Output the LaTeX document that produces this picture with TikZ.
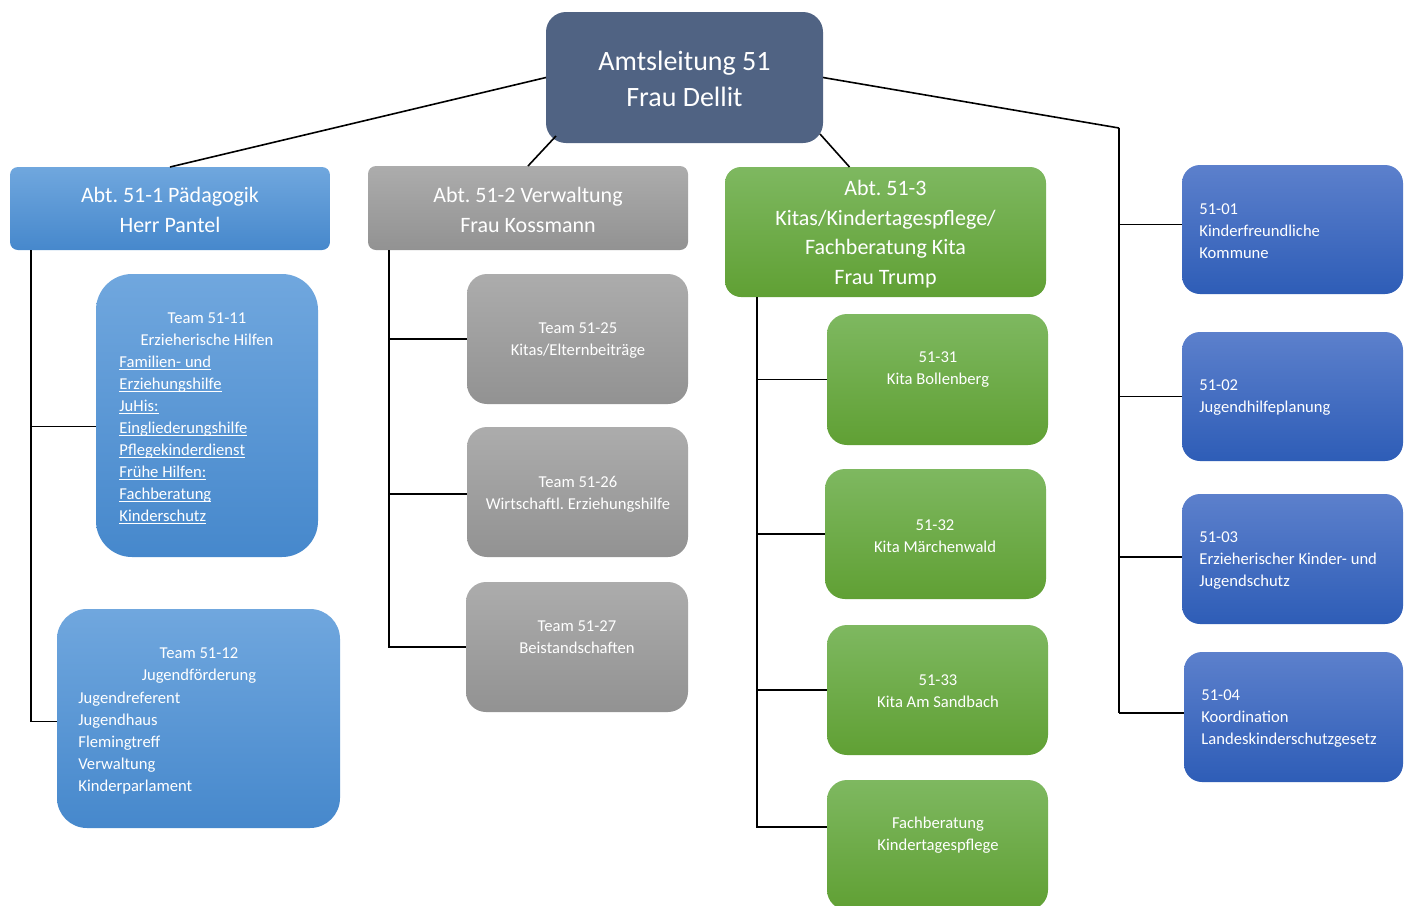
\documentclass[tikz,border=0pt]{standalone}
\usepackage{fontspec}
\setmainfont{Carlito}
\usetikzlibrary{calc}
\frenchspacing

\definecolor{amtfill}{RGB}{80,99,131}
\definecolor{paedtop}{RGB}{112,167,222}
\definecolor{paedbot}{RGB}{70,136,204}
\definecolor{verwtop}{RGB}{172,172,172}
\definecolor{verwbot}{RGB}{146,146,146}
\definecolor{kitatop}{RGB}{126,184,96}
\definecolor{kitabot}{RGB}{96,160,52}
\definecolor{stabtop}{RGB}{92,128,204}
\definecolor{stabbot}{RGB}{46,93,183}

% underline at a fixed depth, crossing the descenders
\newcommand\undl[1]{\setbox0=\hbox{#1}\rlap{\rule[-1.6pt]{\wd0}{0.65pt}}\box0}

\tikzset{
  orgbox/.style={draw=none, inner sep=0pt, outer sep=0pt},
  amtbox/.style={orgbox, fill=amtfill, rounded corners=10pt},
  paedbox/.style={orgbox, top color=paedtop, bottom color=paedbot},
  verwbox/.style={orgbox, top color=verwtop, bottom color=verwbot},
  kitabox/.style={orgbox, top color=kitatop, bottom color=kitabot},
  stabbox/.style={orgbox, top color=stabtop, bottom color=stabbot, rounded corners=9pt},
  txt/.style={text=white, inner sep=0pt, align=center, font=\fontsize{8.3}{11}\selectfont},
  lefttxt/.style={txt, align=left, anchor=west},
  abttxt/.style={txt, font=\fontsize{11}{15}\selectfont},
  conn/.style={draw=black, line width=0.8pt},
}

\begin{document}
\begin{tikzpicture}[x=0.5pt, y=-0.5pt]
\clip (0,0) rectangle (1410,906);
\fill[white] (0,0) rectangle (1410,906);

% ---- head of office
\node[amtbox, minimum width=138.5pt, minimum height=65.5pt] (amt) at (684.5,77.5) {};
\node[txt, font=\fontsize{14}{18}\selectfont] (amt-t) at (684.5,79) {Amtsleitung 51\\Frau Dellit};

% ---- departments
\node[paedbox, rounded corners=4pt, minimum width=160pt, minimum height=41.5pt] (abt1) at (170,208.5) {};
\node[abttxt] (abt1-t) at (170,210) {Abt. 51-1 Pädagogik\\Herr Pantel};

\node[verwbox, rounded corners=4pt, minimum width=160pt, minimum height=42pt] (abt2) at (528,208) {};
\node[abttxt] (abt2-t) at (528,210) {Abt. 51-2 Verwaltung\\Frau Kossmann};

\node[kitabox, rounded corners=8pt, minimum width=160.5pt, minimum height=65pt] (abt3) at (885.5,232) {};
\node[abttxt, font=\fontsize{11}{14.75}\selectfont] (abt3-t) at (885.5,234) {Abt. 51-3\\Kitas/Kindertagespflege/\\Fachberatung Kita\\Frau Trump};

% ---- teams of 51-1
\node[paedbox, rounded corners=18pt, minimum width=111pt, minimum height=141.5pt] (t11) at (207,415.5) {};
\node[txt] (t11-h) at (207,329.5) {Team 51-11\\Erzieherische Hilfen};
\node[lefttxt] (t11-l) at (119,440) {\undl{Familien- und}\\\undl{Erziehungshilfe}\\\undl{JuHis:}\\\undl{Eingliederungshilfe}\\\undl{Pflegekinderdienst}\\\undl{Frühe Hilfen:}\\\undl{Fachberatung}\\\undl{Kinderschutz}};

\node[paedbox, rounded corners=15pt, minimum width=141.5pt, minimum height=109.5pt] (t12) at (198.5,718.5) {};
\node[txt] (t12-h) at (199,666) {Team 51-12\\Jugendförderung};
\node[lefttxt] (t12-l) at (78,743) {Jugendreferent\\Jugendhaus\\Flemingtreff\\Verwaltung\\Kinderparlament};

% ---- teams of 51-2
\node[verwbox, rounded corners=10pt, minimum width=110.5pt, minimum height=65pt] (g25) at (577.5,339) {};
\node[txt] (g25-t) at (578,341) {Team 51-25\\Kitas/Elternbeiträge};
\node[verwbox, rounded corners=10pt, minimum width=110.5pt, minimum height=65pt] (g26) at (577.5,492) {};
\node[txt] (g26-t) at (578,494.5) {Team 51-26\\Wirtschaftl. Erziehungshilfe};
\node[verwbox, rounded corners=10pt, minimum width=111pt, minimum height=65pt] (g27) at (577,647) {};
\node[txt] (g27-t) at (577,637.5) {Team 51-27\\Beistandschaften};

% ---- units of 51-3
\node[kitabox, rounded corners=10pt, minimum width=110.5pt, minimum height=65.5pt] (k31) at (937.5,379.5) {};
\node[txt] (k31-t) at (938,369.5) {51-31\\Kita Bollenberg};
\node[kitabox, rounded corners=10pt, minimum width=110.5pt, minimum height=65pt] (k32) at (935.5,534) {};
\node[txt] (k32-t) at (935,536) {51-32\\Kita Märchenwald};
\node[kitabox, rounded corners=10pt, minimum width=110.5pt, minimum height=65pt] (k33) at (937.5,690) {};
\node[txt] (k33-t) at (938,691) {51-33\\Kita Am Sandbach};
\node[kitabox, rounded corners=10pt, minimum width=110.5pt, minimum height=65pt] (kfb) at (937.5,845) {};
\node[txt] (kfb-t) at (938,835.5) {Fachberatung\\Kindertagespflege};

% ---- staff units
\node[stabbox, minimum width=110.5pt, minimum height=64.5pt] (s01) at (1292.5,229.5) {};
\node[lefttxt] (s01-t) at (1199,231) {51-01\\Kinderfreundliche\\Kommune};
\node[stabbox, minimum width=110.5pt, minimum height=64.5pt] (s02) at (1292.5,396.5) {};
\node[lefttxt] (s02-t) at (1199,397.5) {51-02\\Jugendhilfeplanung};
\node[stabbox, minimum width=110.5pt, minimum height=65pt] (s03) at (1292.5,559) {};
\node[lefttxt] (s03-t) at (1199,561) {51-03\\Erzieherischer Kinder- und\\Jugendschutz};
\node[stabbox, minimum width=109.5pt, minimum height=65pt] (s04) at (1293.5,717) {};
\node[lefttxt] (s04-t) at (1201,719) {51-04\\Koordination\\Landeskinderschutzgesetz};

% ---- connectors from the head of office
\draw[conn] (amt.west) -- (abt1.north);
\draw[conn] ($(amt.south west)+(10,-7)$) -- (abt2.north);
\draw[conn] ($(amt.south east)+(-3,-9)$) -- ($(abt3.north)+(-36,0)$);
\coordinate (sj) at (1119,128);
\draw[conn] (amt.east) -- (sj);
\draw[conn] (sj) -- (sj |- {$(s04.west)+(0,-4)$});
\draw[conn] (sj |- {$(s01.west)+(0,-5)$}) -- ($(s01.west)+(0,-5)$);
\draw[conn] (sj |- s02.west) -- (s02.west);
\draw[conn] (sj |- {$(s03.west)+(0,-2)$}) -- ($(s03.west)+(0,-2)$);
\draw[conn] (sj |- {$(s04.west)+(0,-4)$}) -- ($(s04.west)+(0,-4)$);

% ---- department trees
\coordinate (j1) at ($(abt1.south west)+(21,0)$);
\draw[conn] (j1) |- ($(t11.west)+(0,11)$);
\draw[conn] (j1) |- ($(t12.west)+(0,3)$);

\coordinate (j2) at ($(abt2.south west)+(21,0)$);
\draw[conn] (j2) |- (g27.west);
\draw[conn] (j2 |- g25.west) -- (g25.west);
\draw[conn] (j2 |- {$(g26.west)+(0,2)$}) -- ($(g26.west)+(0,2)$);

\coordinate (j3) at ($(abt3.south west)+(32,0)$);
\draw[conn] (j3) |- ($(kfb.west)+(0,-18)$);
\draw[conn] (j3 |- k31.west) -- (k31.west);
\draw[conn] (j3 |- k32.west) -- (k32.west);
\draw[conn] (j3 |- k33.west) -- (k33.west);
\end{tikzpicture}
\end{document}
